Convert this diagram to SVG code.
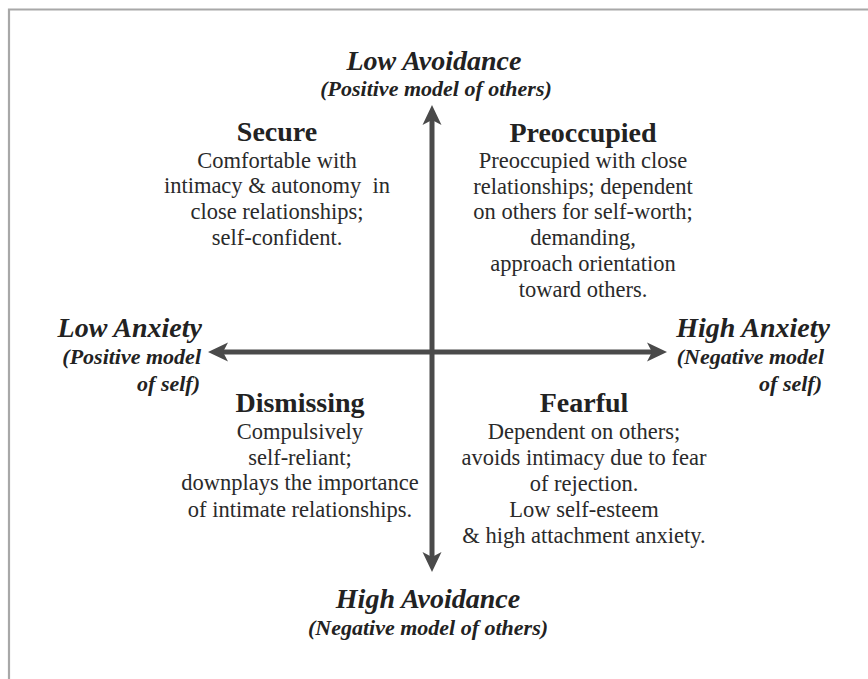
<svg xmlns="http://www.w3.org/2000/svg" width="868" height="679" viewBox="0 0 868 679">
<style>
.ax{font-family:"Liberation Serif","Times New Roman",serif;font-style:italic;font-weight:bold;fill:#222}
.big{font-size:28px}
.sub{font-size:22px}
.hd{font-family:"Liberation Serif","Times New Roman",serif;font-weight:bold;font-size:28px;fill:#222;text-anchor:middle}
.bd{font-family:"Liberation Serif","Times New Roman",serif;font-size:22.5px;fill:#2a2a2a;text-anchor:middle}
.axis{stroke:#4a4a4a;stroke-width:5;fill:none}
</style>
<defs>
<marker id="ah" markerUnits="userSpaceOnUse" viewBox="-12 -11 24 22" markerWidth="24" markerHeight="22" refX="0" refY="0" orient="auto-start-reverse">
<path d="M10,0 L-10,-9.5 L-5,0 L-10,9.5 Z" fill="#4a4a4a"/>
</marker>
</defs>
<rect width="868" height="679" fill="#fff"/>
<path d="M9,679 V9.5 H868" fill="none" stroke="#a8a8a8" stroke-width="2.2"/>
<g id="connectors">
<line class="axis" x1="432" y1="562" x2="432" y2="115" marker-start="url(#ah)" marker-end="url(#ah)"/>
<line class="axis" x1="218" y1="352" x2="657" y2="352" marker-start="url(#ah)" marker-end="url(#ah)"/>
</g>
<g id="low-avoidance">
<text class="ax big" x="434" y="70" text-anchor="middle">Low Avoidance</text>
<text class="ax sub" x="436" y="96" text-anchor="middle">(Positive model of others)</text>
</g>
<g id="high-avoidance">
<text class="ax big" x="428" y="608" text-anchor="middle">High Avoidance</text>
<text class="ax sub" x="428" y="635" text-anchor="middle">(Negative model of others)</text>
</g>
<g id="low-anxiety">
<text class="ax big" x="202" y="337" text-anchor="end">Low Anxiety</text>
<text class="ax sub" x="201" y="364" text-anchor="end">(Positive model</text>
<text class="ax sub" x="200" y="391" text-anchor="end">of self)</text>
</g>
<g id="high-anxiety">
<text class="ax big" x="830" y="337" text-anchor="end">High Anxiety</text>
<text class="ax sub" x="824" y="364" text-anchor="end">(Negative model</text>
<text class="ax sub" x="822" y="391" text-anchor="end">of self)</text>
</g>
<g id="secure">
<text class="hd" x="277" y="141">Secure</text>
<text class="bd" x="277" y="168">Comfortable with</text>
<text class="bd" x="277" y="193" xml:space="preserve">intimacy &amp; autonomy  in</text>
<text class="bd" x="277" y="219">close relationships;</text>
<text class="bd" x="277" y="245">self-confident.</text>
</g>
<g id="preoccupied">
<text class="hd" x="583" y="142">Preoccupied</text>
<text class="bd" x="583" y="168">Preoccupied with close</text>
<text class="bd" x="583" y="194">relationships; dependent</text>
<text class="bd" x="583" y="219">on others for self-worth;</text>
<text class="bd" x="583" y="245">demanding,</text>
<text class="bd" x="583" y="271">approach orientation</text>
<text class="bd" x="583" y="297">toward others.</text>
</g>
<g id="dismissing">
<text class="hd" x="300" y="412">Dismissing</text>
<text class="bd" x="300" y="439">Compulsively</text>
<text class="bd" x="300" y="465">self-reliant;</text>
<text class="bd" x="300" y="490">downplays the importance</text>
<text class="bd" x="300" y="517">of intimate relationships.</text>
</g>
<g id="fearful">
<text class="hd" x="584" y="412">Fearful</text>
<text class="bd" x="584" y="439">Dependent on others;</text>
<text class="bd" x="584" y="465">avoids intimacy due to fear</text>
<text class="bd" x="584" y="491">of rejection.</text>
<text class="bd" x="584" y="517">Low self-esteem</text>
<text class="bd" x="584" y="543">&amp; high attachment anxiety.</text>
</g>
</svg>
